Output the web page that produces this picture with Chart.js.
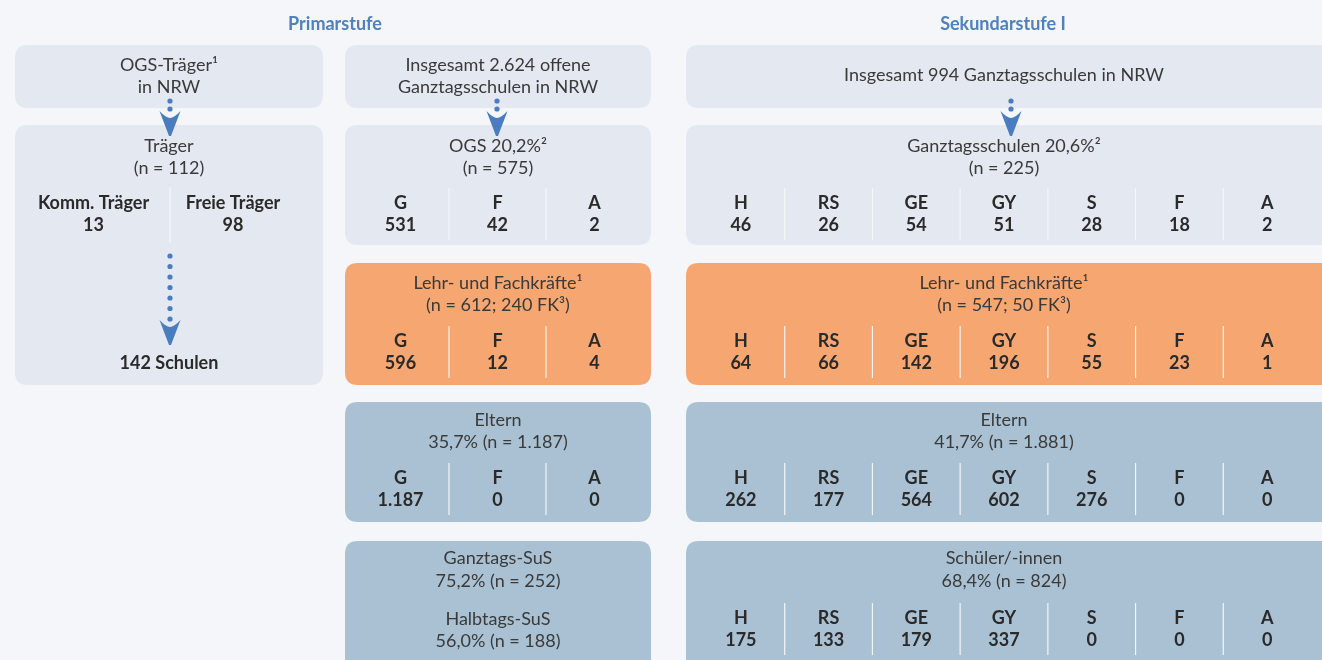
<!DOCTYPE html>
<html><head><meta charset="utf-8">
<script src="https://cdn.jsdelivr.net/npm/chart.js@4"></script>
<style>html,body{margin:0;padding:0;background:#f3f5f8;overflow:hidden}canvas{display:block}</style>
</head><body>
<canvas id="c" width="1322" height="660"></canvas>
<script>
// ---------- data ----------
const primSchoolTypes = ['G', 'F', 'A'];
const secSchoolTypes = ['H', 'RS', 'GE', 'GY', 'S', 'F', 'A'];
const carrierTypes = ['Komm. Träger', 'Freie Träger'];
const carrierCounts = [13, 98];
const carrierSchools = 142;
const ogsSchoolCounts = [531, 42, 2];
const primStaffCounts = [596, 12, 4];
const primParentCounts = [1187, 0, 0];
const secSchoolCounts = [46, 26, 54, 51, 28, 18, 2];
const secStaffCounts = [64, 66, 142, 196, 55, 23, 1];
const secParentCounts = [262, 177, 564, 602, 276, 0, 0];
const secStudentCounts = [175, 133, 179, 337, 0, 0, 0];
const stageTitles = ['Primarstufe', 'Sekundarstufe I'];

const fmt = n => String(n).replace(/\B(?=(\d{3})+(?!\d))/g, '.');

// ---------- style / layout ----------
const C = {
  bg: '#f4f6f9', light: '#e3e8f1', orange: '#f5a671', blue: '#a9c1d3',
  title: '#4f80bf', text: '#3a3a3a', bold: '#2a2a2a', arrow: '#4a7cc0'
};
const FONT = 'Lato, "Open Sans", sans-serif';
const SIZE = 18;
const eq = (a, b, n) => Array.from({length: n + 1}, (_, i) => a + (b - a) * i / n);
const midEdges = [352, 449, 546, 643];
const secEdges = eq(697, 1311, 7);
const L = {x0: 15, x1: 323}, M = {x0: 345, x1: 651}, R = {x0: 686, x1: 1340};

const boxes = [
  {c: L, y0: 45, y1: 108, fill: C.light, lines: [['OGS-Träger¹', 20], ['in NRW', 42]]},
  {c: L, y0: 125, y1: 385, fill: C.light, lines: [['Träger', 21], ['(n = 112)', 43]],
    table: {cats: carrierTypes, vals: carrierCounts, edges: [17, 170, 296], top: 63, sepTop: 62, sepBot: 118}},
  {c: M, y0: 45, y1: 108, fill: C.light, lines: [['Insgesamt 2.624 offene', 20], ['Ganztagsschulen in NRW', 42]]},
  {c: M, y0: 125, y1: 245, fill: C.light, lines: [['OGS 20,2%²', 21], ['(n = 575)', 43]],
    table: {cats: primSchoolTypes, vals: ogsSchoolCounts, edges: midEdges, top: 63}},
  {c: M, y0: 263, y1: 385, fill: C.orange, lines: [['Lehr- und Fachkräfte¹', 20], ['(n = 612; 240 FK³)', 42]],
    table: {cats: primSchoolTypes, vals: primStaffCounts, edges: midEdges, top: 63}},
  {c: M, y0: 402, y1: 522, fill: C.blue, lines: [['Eltern', 18], ['35,7% (n = 1.187)', 40]],
    table: {cats: primSchoolTypes, vals: primParentCounts, edges: midEdges, top: 61}},
  {c: M, y0: 541, y1: 680, fill: C.blue, lines: [['Ganztags-SuS', 17], ['75,2% (n = 252)', 40], ['Halbtags-SuS', 78], ['56,0% (n = 188)', 100]]},
  {c: R, y0: 45, y1: 108, fill: C.light, lines: [['Insgesamt 994 Ganztagsschulen in NRW', 30]]},
  {c: R, y0: 125, y1: 245, fill: C.light, lines: [['Ganztagsschulen 20,6%²', 21], ['(n = 225)', 43]],
    table: {cats: secSchoolTypes, vals: secSchoolCounts, edges: secEdges, top: 63}},
  {c: R, y0: 263, y1: 385, fill: C.orange, lines: [['Lehr- und Fachkräfte¹', 20], ['(n = 547; 50 FK³)', 42]],
    table: {cats: secSchoolTypes, vals: secStaffCounts, edges: secEdges, top: 63}},
  {c: R, y0: 402, y1: 522, fill: C.blue, lines: [['Eltern', 18], ['41,7% (n = 1.881)', 40]],
    table: {cats: secSchoolTypes, vals: secParentCounts, edges: secEdges, top: 61}},
  {c: R, y0: 541, y1: 680, fill: C.blue, lines: [['Schüler/-innen', 17], ['68,4% (n = 824)', 40]],
    table: {cats: secSchoolTypes, vals: secStudentCounts, edges: secEdges, top: 62}}
];
const headings = [{text: stageTitles[0], x: 335, y: 24}, {text: stageTitles[1], x: 1003, y: 24}];
const arrows = [
  {x: 170, dots: [101, 109], head: 111},
  {x: 497, dots: [101, 109], head: 111},
  {x: 1011, dots: [101, 109], head: 111},
  {x: 170, dots: eq(256, 319, 6), head: 320}
];

function rr(ctx, x, y, w, h, r) {
  ctx.beginPath();
  ctx.moveTo(x + r, y); ctx.lineTo(x + w - r, y); ctx.quadraticCurveTo(x + w, y, x + w, y + r);
  ctx.lineTo(x + w, y + h - r); ctx.quadraticCurveTo(x + w, y + h, x + w - r, y + h);
  ctx.lineTo(x + r, y + h); ctx.quadraticCurveTo(x, y + h, x, y + h - r);
  ctx.lineTo(x, y + r); ctx.quadraticCurveTo(x, y, x + r, y); ctx.closePath();
}

const diagram = {
  id: 'diagram',
  beforeDatasetsDraw(chart) {
    const ctx = chart.ctx, sx = chart.scales.x, sy = chart.scales.y;
    const X = v => sx.getPixelForValue(v), Y = v => sy.getPixelForValue(v);
    ctx.save();
    ctx.fillStyle = C.bg; ctx.fillRect(0, 0, chart.width, chart.height);
    ctx.textAlign = 'center'; ctx.textBaseline = 'middle';
    headings.forEach(h => {
      ctx.font = 'bold ' + SIZE + 'px ' + FONT; ctx.fillStyle = C.title;
      ctx.fillText(h.text, X(h.x), Y(h.y));
    });
    boxes.forEach(b => {
      const x0 = X(b.c.x0), x1 = X(b.c.x1), y0 = Y(b.y0), y1 = Y(b.y1);
      ctx.fillStyle = b.fill; rr(ctx, x0, y0, x1 - x0, y1 - y0, 13); ctx.fill();
      const cx = X((b.c.x0 + Math.min(b.c.x1, 1322)) / 2);
      ctx.font = SIZE + 'px ' + FONT; ctx.fillStyle = C.text;
      b.lines.forEach(([t, dy]) => ctx.fillText(t, cx, Y(b.y0 + dy)));
      if (b.table) {
        const t = b.table, e = t.edges;
        const sTop = b.y0 + (t.sepTop !== undefined ? t.sepTop : t.top), sBot = b.y0 + (t.sepBot !== undefined ? t.sepBot : t.top + 52);
        ctx.strokeStyle = b.fill === C.light ? 'rgba(255,255,255,0.6)' : 'rgba(255,255,255,0.85)'; ctx.lineWidth = 1.2;
        for (let i = 1; i < e.length - 1; i++) {
          ctx.beginPath(); ctx.moveTo(X(e[i]), Y(sTop)); ctx.lineTo(X(e[i]), Y(sBot)); ctx.stroke();
        }
        ctx.font = 'bold ' + SIZE + 'px ' + FONT; ctx.fillStyle = C.bold;
        t.cats.forEach((cat, i) => {
          const c = X((e[i] + e[i + 1]) / 2);
          ctx.fillText(cat, c, Y(b.y0 + t.top + 15));
          ctx.fillText(fmt(t.vals[i]), c, Y(b.y0 + t.top + 37));
        });
      }
    });
    ctx.font = 'bold ' + SIZE + 'px ' + FONT; ctx.fillStyle = C.bold;
    ctx.fillText(carrierSchools + ' Schulen', X(169), Y(363));
    ctx.fillStyle = C.arrow;
    arrows.forEach(a => {
      const cx = X(a.x);
      a.dots.forEach(d => { ctx.beginPath(); ctx.arc(cx, Y(d), 2.6, 0, Math.PI * 2); ctx.fill(); });
      const t = Y(a.head);
      ctx.beginPath();
      ctx.moveTo(cx - 10.5, t);
      ctx.quadraticCurveTo(cx - 4, t + 7, cx, t + 7);
      ctx.quadraticCurveTo(cx + 4, t + 7, cx + 10.5, t);
      ctx.lineTo(cx + 1, t + 25); ctx.lineTo(cx - 1, t + 25);
      ctx.closePath(); ctx.fill();
    });
    ctx.restore();
  }
};

new Chart(document.getElementById('c'), {
  type: 'scatter',
  data: {datasets: []},
  options: {
    responsive: false, animation: false, devicePixelRatio: 1,
    layout: {padding: 0},
    plugins: {legend: {display: false}, tooltip: {enabled: false}},
    scales: {
      x: {type: 'linear', min: 0, max: 1322, display: false},
      y: {type: 'linear', min: 0, max: 660, reverse: true, display: false}
    }
  },
  plugins: [diagram]
});
</script>
</body></html>
